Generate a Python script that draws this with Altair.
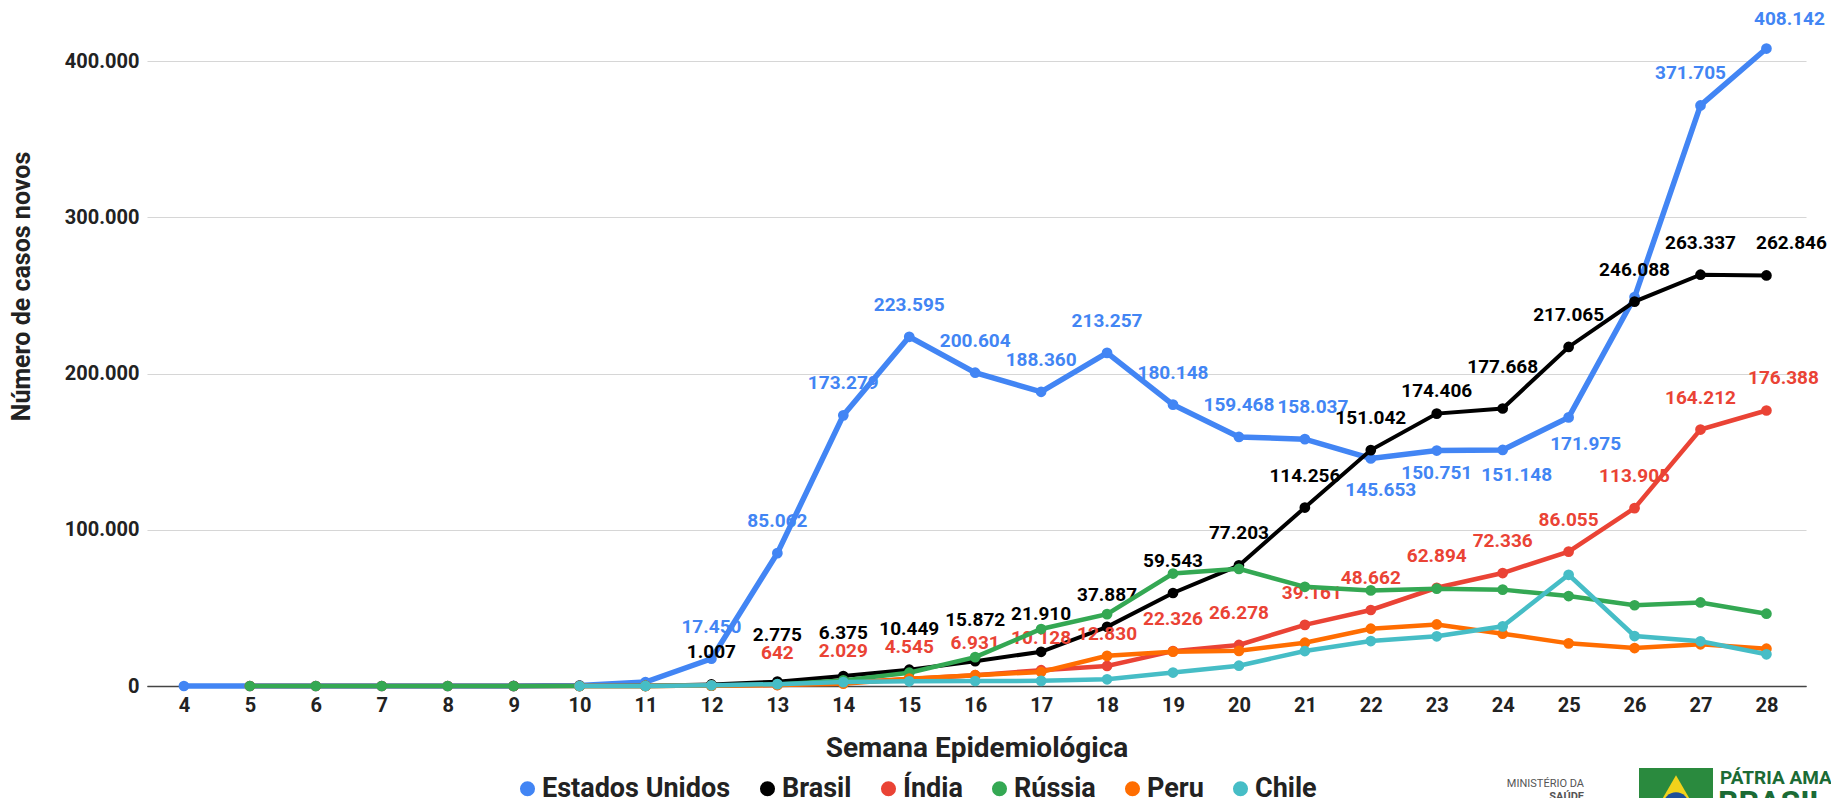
import altair as alt
import pandas as pd

weeks = list(range(4, 29))
countries = ["Estados Unidos", "Brasil", "Índia", "Rússia", "Peru", "Chile"]
colors = ["#4285F4", "#000000", "#EA4335", "#34A853", "#FF6D01", "#46BDC6"]

N = None
eua = [1, 5, 5, 2, 2, 30, 400, 2500, 17450, 85062, 173279, 223595, 200604, 188360,
       213257, 180148, 159468, 158037, 145653, 150751, 151148, 171975, 249000, 371705, 408142]
brasil = [N, N, N, N, N, 1, 15, 120, 1007, 2775, 6375, 10449, 15872, 21910, 37887, 59543,
          77203, 114256, 151042, 174406, 177668, 217065, 246088, 263337, 262846]
india = [N, 1, 2, 0, 0, 2, 30, 50, 250, 642, 2029, 4545, 6931, 10128, 12830, 22326, 26278,
         39161, 48662, 62894, 72336, 86055, 113905, 164212, 176388]
russia = [N, 2, 0, 0, 0, 1, 10, 40, 250, 1000, 3600, 8500, 18500, 36500, 46000, 72000, 75000,
          63500, 61200, 62300, 61700, 57600, 51700, 53500, 46300]
peru = [N, N, N, N, N, N, 6, 60, 250, 600, 1500, 4700, 6900, 9000, 19300, 22000, 22500,
        27700, 36700, 39400, 33500, 27300, 24300, 26700, 23900]
chile = [N, N, N, N, N, N, 5, 60, 450, 1200, 2500, 3000, 3200, 3300, 4300, 8600, 13000,
         22400, 28800, 31800, 38200, 71200, 32000, 28600, 20300]
series = [eua, brasil, india, russia, peru, chile]

labelled_weeks = {
    "Estados Unidos": list(range(12, 26)) + [27, 28],
    "Brasil": list(range(12, 29)),
    "Índia": list(range(13, 29)),
}

# plot geometry
PLOT_W, PLOT_H = 1659, 656
X_DOMAIN = [3.44, 28.6]
Y_DOMAIN = [0, 420000]

# label placement (pixel offsets of the label centre from its point)
DEFAULT_DY = -32
label_shift = {
    ("Estados Unidos", 21): (8, DEFAULT_DY),
    ("Estados Unidos", 22): (10, 31),
    ("Estados Unidos", 23): (0, 22),
    ("Estados Unidos", 24): (14, 25),
    ("Estados Unidos", 25): (17, 27),
    ("Estados Unidos", 27): (-10, DEFAULT_DY),
    ("Estados Unidos", 28): (23, -30),
    ("Brasil", 13): (0, -47),
    ("Brasil", 14): (0, -43),
    ("Brasil", 15): (0, -41),
    ("Brasil", 16): (0, -41),
    ("Brasil", 17): (0, -38),
    ("Brasil", 23): (0, -23),
    ("Brasil", 24): (0, -41),
    ("Brasil", 28): (25, DEFAULT_DY),
    ("Índia", 21): (7, DEFAULT_DY),
    ("Índia", 28): (17, DEFAULT_DY),
}

rows = []
for c, vals in zip(countries, series):
    for w, v in zip(weeks, vals):
        if v is None:
            continue
        lab = ""
        if w in labelled_weeks.get(c, []):
            lab = f"{v:,}".replace(",", ".")
        dx, dy = label_shift.get((c, w), (0, DEFAULT_DY))
        rows.append({"country": c, "week": w, "value": v, "label": lab, "dx": dx, "dy": dy})
df = pd.DataFrame(rows)

FONT = "Roboto"
TXT = "#222222"

x_scale = alt.Scale(domain=X_DOMAIN, nice=False, zero=False)
y_scale = alt.Scale(domain=Y_DOMAIN, nice=False)

x_enc = alt.X(
    "week:Q", scale=x_scale,
    axis=alt.Axis(
        values=weeks, format="d", title="Semana Epidemiológica", grid=False, ticks=False,
        domainColor="#444444", domainWidth=1.5, labelFont=FONT, labelFontSize=20,
        labelFontWeight="bold", labelColor=TXT, labelPadding=9, labelFlush=False,
        labelOverlap=False, titleFont=FONT, titleFontSize=28, titleFontWeight="bold",
        titleColor=TXT, titleY=62, titleBaseline="middle",
    ),
)
y_enc = alt.Y(
    "value:Q", scale=y_scale,
    axis=alt.Axis(
        values=[0, 100000, 200000, 300000, 400000],
        labelExpr="replace(format(datum.value, ','), regexp(',', 'g'), '.')",
        title="Número de casos novos", grid=True,
        gridColor={"condition": {"test": "datum.value === 0", "value": "#444444"}, "value": "#d6d6d6"},
        gridWidth=1.2, domain=False, ticks=False, labelFont=FONT, labelFontSize=20,
        labelFontWeight="bold", labelColor=TXT, labelPadding=8, titleFont=FONT,
        titleFontSize=25, titleFontWeight="bold", titleColor=TXT, titleX=-126, titleY=256,
        titleBaseline="middle", titleAlign="center", titleAngle=-90,
    ),
)
color_enc = alt.Color(
    "country:N",
    scale=alt.Scale(domain=countries, range=colors),
    legend=alt.Legend(
        orient="none", legendX=367, legendY=745, direction="horizontal", title=None,
        symbolType="circle", symbolSize=227, symbolStrokeWidth=0, symbolOpacity=1,
        labelFont=FONT, labelFontSize=27, labelFontWeight="bold", labelColor=TXT,
        labelOffset=1, labelLimit=0, columnPadding=23, padding=0,
    ),
)

# label anchor = point position shifted by the pixel offsets, through the scales
wk_per_px = (X_DOMAIN[1] - X_DOMAIN[0]) / PLOT_W
val_per_px = (Y_DOMAIN[1] - Y_DOMAIN[0]) / PLOT_H

base = alt.Chart(df)
layers = []
for c, col in zip(countries, colors):
    sub = base.transform_filter(alt.datum.country == c)
    sw = 5.5 if c == "Estados Unidos" else (4 if c == "Brasil" else 4.5)
    layers.append(sub.mark_line(color=col, strokeWidth=sw).encode(x=x_enc, y=y_enc))
    layers.append(sub.mark_circle(size=115, opacity=1).encode(x=x_enc, y=y_enc, color=color_enc))
    if c in labelled_weeks:
        layers.append(
            sub.transform_filter(alt.datum.label != "")
            .transform_calculate(
                lx=f"datum.week + datum.dx * {wk_per_px}",
                ly=f"datum.value - datum.dy * {val_per_px}",
            )
            .mark_text(color=col, font=FONT, fontSize=19, fontWeight="bold",
                       baseline="middle", align="center")
            .encode(x=alt.X("lx:Q", scale=x_scale), y=alt.Y("ly:Q", scale=y_scale),
                    text="label:N")
        )

# Ministry logo (decoration at the bottom right)
one = pd.DataFrame({"k": [0]})
logo = [
    alt.Chart(one).mark_text(text="MINISTÉRIO DA", align="right", baseline="middle",
                             font=FONT, fontSize=11, color="#555555")
    .encode(x=alt.value(1437), y=alt.value(754)),
    alt.Chart(one).mark_text(text="SAÚDE", align="right", baseline="middle",
                             font=FONT, fontSize=11, fontWeight="bold", color="#555555")
    .encode(x=alt.value(1437), y=alt.value(767)),
    alt.Chart(one).mark_rect(color="#2a8a3e")
    .encode(x=alt.value(1492), x2=alt.value(1566), y=alt.value(738), y2=alt.value(800)),
    alt.Chart(one).mark_point(shape="triangle-up", filled=True, color="#f2d21b", size=1500, opacity=1)
    .encode(x=alt.value(1529), y=alt.value(762)),
    alt.Chart(one).mark_circle(color="#1d4f9a", size=650, opacity=1)
    .encode(x=alt.value(1529), y=alt.value(775)),
    alt.Chart(one).mark_text(text="PÁTRIA AMADA", align="left", baseline="middle",
                             font=FONT, fontSize=19, fontWeight="bold", color="#1b6b35")
    .encode(x=alt.value(1573), y=alt.value(748)),
    alt.Chart(one).mark_text(text="BRASIL", align="left", baseline="middle",
                             font=FONT, fontSize=32, fontWeight="bold", color="#1b6b35")
    .encode(x=alt.value(1571), y=alt.value(773)),
]

chart = (
    alt.layer(*layers, *logo)
    .properties(
        width=PLOT_W, height=PLOT_H,
        padding={"left": 139, "top": 22, "right": 25, "bottom": 112},
        autosize=alt.AutoSizeParams(type="none"),
        background="white",
    )
    .configure_view(stroke=None)
)

chart.save("out.html", embed_options={"renderer": "svg", "actions": False})
